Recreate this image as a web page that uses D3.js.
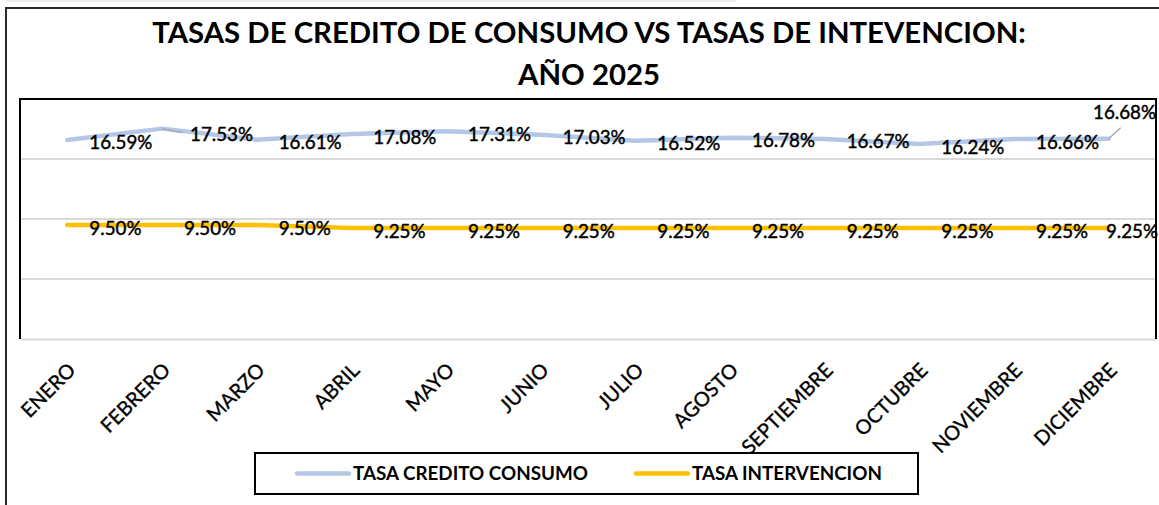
<!DOCTYPE html>
<html>
<head>
<meta charset="utf-8">
<script src="https://cdn.jsdelivr.net/npm/d3@7"></script>
<style>
  html, body { margin: 0; padding: 0; background: #fff; }
  svg { display: block; }
  text { font-family: Lato, "Open Sans", "Liberation Sans", sans-serif; fill: #000; }
</style>
</head>
<body>
<svg id="chart" width="1159" height="505"></svg>
<script>
// ---- data ----
const months = ["ENERO", "FEBRERO", "MARZO", "ABRIL", "MAYO", "JUNIO", "JULIO",
                "AGOSTO", "SEPTIEMBRE", "OCTUBRE", "NOVIEMBRE", "DICIEMBRE"];
const consumo = [16.59, 17.53, 16.61, 17.08, 17.31, 17.03, 16.52, 16.78, 16.67, 16.24, 16.66, 16.68];
const intervencion = [9.50, 9.50, 9.50, 9.25, 9.25, 9.25, 9.25, 9.25, 9.25, 9.25, 9.25, 9.25];
const gridValues = [5, 10, 15];
const yDomain = [0, 20];
const titleLines = ["TASAS DE CREDITO DE CONSUMO VS TASAS DE INTEVENCION:", "AÑO 2025"];
const seriesNames = ["TASA CREDITO CONSUMO", "TASA INTERVENCION"];

// ---- layout ----
const W = 1159, H = 505;
const plot = { left: 20, top: 99, right: 1156, bottom: 339 };
const colors = { consumo: "#B4C7E7", intervencion: "#FFC000" };

const svg = d3.select("#chart");

// helper: fit font size so that a reference string reaches a target width
function fitSize(str, target, weight) {
  const t = svg.append("text").attr("font-size", 20).attr("font-weight", weight).text(str);
  const w = t.node().getComputedTextLength();
  t.remove();
  return 20 * target / w;
}

// screenshot artifacts: light strip on top + outer frame
svg.append("rect").attr("x", 6).attr("y", 0).attr("width", 730).attr("height", 2).attr("fill", "#ececec");
svg.append("rect").attr("x", 6).attr("y", 8).attr("width", 1300).attr("height", 700)
  .attr("fill", "#fff").attr("stroke", "#2a2a2a").attr("stroke-width", 2);

// ---- scales ----
const x = d3.scaleBand().domain(months).range([plot.left, plot.right]);
const cx = m => x(m) + x.bandwidth() / 2;
const y = d3.scaleLinear().domain(yDomain).range([plot.bottom, plot.top]);

// ---- title ----
const titleSize = fitSize(titleLines[0], 874, "bold");
svg.append("text").attr("x", 589).attr("y", 43).attr("text-anchor", "middle")
  .attr("font-size", titleSize).attr("font-weight", "bold").text(titleLines[0]);
svg.append("text").attr("x", 589).attr("y", 85).attr("text-anchor", "middle")
  .attr("font-size", titleSize).attr("font-weight", "bold").text(titleLines[1]);

// ---- gridlines ----
svg.append("g").selectAll("line").data(gridValues).join("line")
  .attr("x1", plot.left).attr("x2", plot.right)
  .attr("y1", d => y(d)).attr("y2", d => y(d))
  .attr("stroke", "#d9d9d9").attr("stroke-width", 2);

// ---- x axis ----
const monthSize = fitSize("SEPTIEMBRE", 119, "normal");
const xAxis = svg.append("g").attr("transform", `translate(0,${plot.bottom})`)
  .call(d3.axisBottom(x).tickSize(0).tickPadding(0));
xAxis.select(".domain").attr("stroke", "#d9d9d9").attr("stroke-width", 2);
xAxis.selectAll(".tick text")
  .attr("font-family", "Lato, 'Open Sans', sans-serif")
  .attr("font-size", monthSize).attr("fill", "#000")
  .attr("stroke", "#000").attr("stroke-width", 0.35)
  .attr("text-anchor", "end").attr("x", 0).attr("y", 0).attr("dy", "0.74em")
  .attr("transform", "translate(-1,22) rotate(-45)");

// plot frame (top, left, right)
svg.append("path")
  .attr("d", `M${plot.left},${plot.bottom}V${plot.top}H${plot.right}V${plot.bottom}`)
  .attr("fill", "none").attr("stroke", "#000").attr("stroke-width", 2);

// ---- lines ----
const line = d3.line().x(d => cx(d.m)).y(d => y(d.v));
const consumoData = months.map((m, i) => ({ m, v: consumo[i] }));
const interData = months.map((m, i) => ({ m, v: intervencion[i] }));

svg.append("path").datum(consumoData).attr("d", line)
  .attr("fill", "none").attr("stroke", colors.consumo).attr("stroke-width", 4.5)
  .attr("stroke-linecap", "round").attr("stroke-linejoin", "round");
svg.append("path").datum(interData).attr("d", line)
  .attr("fill", "none").attr("stroke", colors.intervencion).attr("stroke-width", 4.5)
  .attr("stroke-linecap", "round").attr("stroke-linejoin", "round");

// ---- data labels ----
const labelSize = fitSize("16.59%", 63, "normal");
const fmt = v => v.toFixed(2) + "%";
const last = months.length - 1;

// leader lines (Excel style, gray)
const leaders = [
  { i: 1, dx: 20, dy: 4 },
  { i: last, dx: 12, dy: -11 }
];
svg.append("g").selectAll("line").data(leaders).join("line")
  .attr("x1", d => cx(months[d.i])).attr("y1", d => y(consumo[d.i]))
  .attr("x2", d => cx(months[d.i]) + d.dx).attr("y2", d => y(consumo[d.i]) + d.dy)
  .attr("stroke", "#a6a6a6").attr("stroke-width", 1.3);

const labelStyle = sel => sel
  .attr("font-size", labelSize)
  .attr("stroke", "#000").attr("stroke-width", 0.45)
  .attr("dominant-baseline", "central");

svg.append("g").selectAll("text").data(consumoData).join("text")
  .call(labelStyle)
  .attr("text-anchor", (d, i) => i === last ? "end" : "start")
  .attr("x", (d, i) => i === last ? plot.right : cx(d.m) + (i === 1 ? 28 : 22))
  .attr("y", (d, i) => i === last ? y(d.v) - 27 : y(d.v) + (i === 1 ? 4.5 : 2))
  .text(d => fmt(d.v));

svg.append("g").selectAll("text").data(interData).join("text")
  .call(labelStyle)
  .attr("text-anchor", (d, i) => i === last ? "end" : "start")
  .attr("x", (d, i) => i === last ? plot.right + 2 : cx(d.m) + 22)
  .attr("y", d => y(d.v) + 2)
  .text(d => fmt(d.v));

// ---- legend ----
const legend = svg.append("g");
legend.append("rect").attr("x", 255).attr("y", 453).attr("width", 663).attr("height", 41)
  .attr("fill", "#fff").attr("stroke", "#000").attr("stroke-width", 2);
const legendSize = fitSize(seriesNames[0], 235, "bold");
const legItems = [
  { name: seriesNames[0], color: colors.consumo, x0: 297 },
  { name: seriesNames[1], color: colors.intervencion, x0: 636 }
];
legItems.forEach(it => {
  legend.append("line").attr("x1", it.x0).attr("x2", it.x0 + 52)
    .attr("y1", 473.5).attr("y2", 473.5)
    .attr("stroke", it.color).attr("stroke-width", 4.5).attr("stroke-linecap", "round");
  legend.append("text").attr("x", it.x0 + 56).attr("y", 479.5)
    .attr("font-size", legendSize).attr("font-weight", "bold").text(it.name);
});
</script>
</body>
</html>
